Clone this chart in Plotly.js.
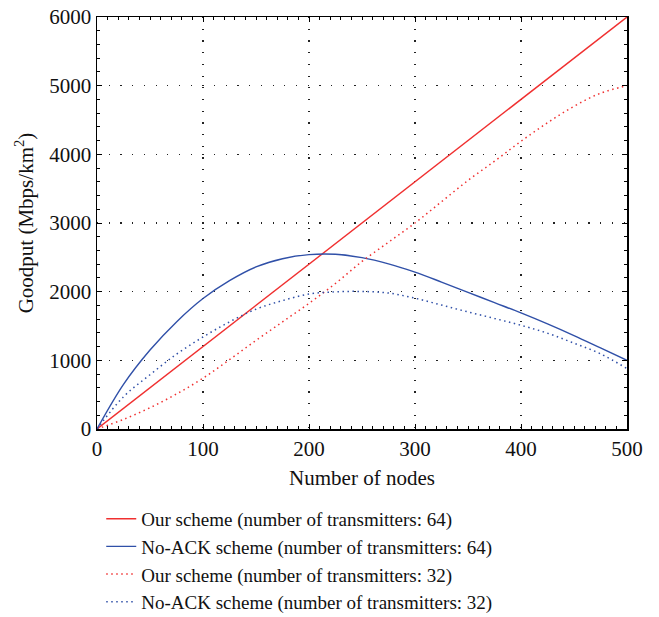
<!DOCTYPE html>
<html>
<head>
<meta charset="utf-8">
<script src="https://cdn.plot.ly/plotly-3.0.1.min.js"></script>
<style>html,body{margin:0;padding:0;background:#fff;}#chart{width:659px;height:617px;}</style>
</head>
<body>
<div id="chart"></div>
<script>
const nodes = [0,25,50,75,100,125,150,175,200,225,250,275,300,325,350,375,400,425,450,475,500];
const ourScheme64 = [0,300,600,900,1200,1500,1800,2100,2400,2700,3000,3300,3600,3900,4200,4500,4800,5100,5400,5700,6000];
const noAck64 = [0,650,1150,1560,1900,2160,2360,2480,2540,2545,2495,2405,2285,2140,1990,1840,1690,1530,1360,1180,1000];
const ourScheme32 = [0,140,310,510,740,1010,1290,1560,1830,2120,2440,2720,3000,3310,3620,3900,4190,4460,4700,4890,5000];
const noAck32 = [0,470,790,1090,1340,1560,1745,1870,1965,1998,2003,1980,1905,1805,1705,1610,1510,1395,1250,1095,880];
const seriesNames = [
  'Our scheme (number of transmitters: 64)',
  'No-ACK scheme (number of transmitters: 64)',
  'Our scheme (number of transmitters: 32)',
  'No-ACK scheme (number of transmitters: 32)'
];
const xTicks = [0,100,200,300,400,500];
const yTicks = [0,1000,2000,3000,4000,5000,6000];

const red = '#f03030';
const blue = '#3050a8';
const dotted = '1.5px,3.5px';

const traces = [
  {x: nodes, y: ourScheme64, name: seriesNames[0], mode: 'lines', line: {color: red, width: 1.4}},
  {x: nodes, y: noAck64, name: seriesNames[1], mode: 'lines', line: {color: blue, width: 1.4, shape: 'spline', smoothing: 1}},
  {x: nodes, y: ourScheme32, name: seriesNames[2], mode: 'lines', line: {color: red, width: 1.5, dash: dotted, shape: 'spline'}},
  {x: nodes, y: noAck32, name: seriesNames[3], mode: 'lines', line: {color: blue, width: 1.5, dash: dotted, shape: 'spline'}}
];

const font = {family: '"Liberation Serif", "DejaVu Serif", serif', size: 21, color: '#111'};

const layout = {
  width: 659, height: 617,
  margin: {l: 97, r: 32, t: 17, b: 188, autoexpand: false},
  paper_bgcolor: '#fff', plot_bgcolor: '#fff',
  font: font,
  showlegend: true,
  legend: {
    x: 0.008, xanchor: 'left', y: -0.172, yanchor: 'top',
    font: {family: font.family, size: 19, color: '#111'},
    tracegroupgap: 0, itemwidth: 30, bgcolor: 'rgba(0,0,0,0)'
  },
  xaxis: {
    range: [0, 500], tickvals: xTicks, ticktext: xTicks.map(String),
    showline: true, linecolor: '#000', linewidth: 1.5, mirror: 'ticks',
    ticks: 'inside', ticklen: 5, tickcolor: '#000',
    showgrid: true, gridcolor: '#222', griddash: '1.2px,10.5px', gridwidth: 1.2,
    zeroline: false,
    minor: {ticks: 'inside', ticklen: 3, dtick: 10, tick0: 0, tickcolor: '#000', showgrid: false},
    title: {text: 'Number of nodes', font: font, standoff: 10},
    tickfont: font
  },
  yaxis: {
    range: [0, 6000], tickvals: yTicks, ticktext: yTicks.map(String),
    showline: true, linecolor: '#000', linewidth: 1.5, mirror: 'ticks',
    ticks: 'inside', ticklen: 5, tickcolor: '#000',
    showgrid: true, gridcolor: '#222', griddash: '1.2px,10.5px', gridwidth: 1.2,
    zeroline: false,
    minor: {ticks: 'inside', ticklen: 3, dtick: 200, tick0: 0, tickcolor: '#000', showgrid: false},
    title: {text: 'Goodput (Mbps/km<sup>2</sup>)', font: font, standoff: 10},
    tickfont: font
  }
};

Plotly.newPlot('chart', traces, layout, {displayModeBar: false, staticPlot: true});
</script>
</body>
</html>
